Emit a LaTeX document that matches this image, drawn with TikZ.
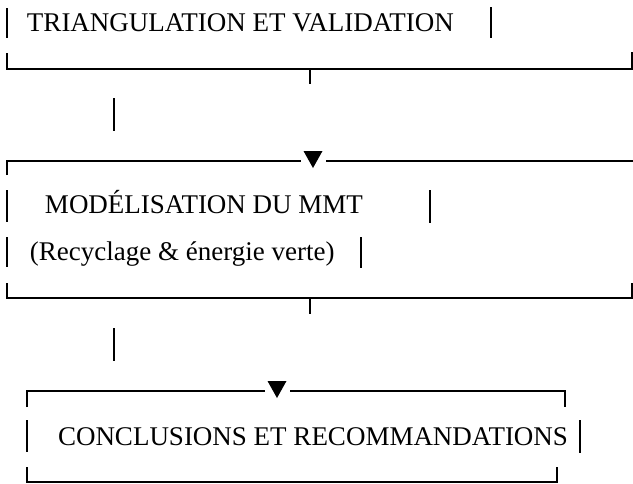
\documentclass[tikz,border=0pt]{standalone}
\usepackage{fontspec}
\setmainfont{Liberation Serif}
\begin{document}
\begin{tikzpicture}[x=1pt,y=-1pt,
  rule/.style={line width=1.9pt,line cap=butt,line join=miter},
  label/.style={anchor=base west,inner sep=0pt,outer sep=0pt,
                font=\fontsize{27}{31}\selectfont},
  arrowhead/.style={fill=black,draw=none}]
\useasboundingbox (0,0) rectangle (633,483);

% ---- first block ----
\node[label] (t1) at (27,31.5) {TRIANGULATION ET VALIDATION};
\draw[rule] (7,8) -- (7,38);
\draw[rule] (491,7) -- (491,38);
\draw[rule] (7,53) -- (7,69) -- (632,69) -- (632,52);
\coordinate (a1) at (310,69);
\draw[rule] (a1) -- ++(0,15);

% ---- link to the second block ----
\coordinate (l1) at (114,98);
\draw[rule] (l1) -- ++(0,33);

% ---- second block ----
\draw[rule] (7,175) -- (7,161) -- (301,161);
\draw[rule] (326,161) -- (633,161);
\coordinate (h1) at (313,168);
\fill[arrowhead] (h1) -- ++(-9.5,-17) -- ++(19,0) -- cycle;
\node[label] (m1) at (45,213.5) {MODÉLISATION DU MMT};
\draw[rule] (7,190) -- (7,222);
\draw[rule] (430,190) -- (430,223);
\node[label] (m2) at (30,260.5) {(Recyclage \& énergie verte)};
\draw[rule] (7,237) -- (7,267);
\draw[rule] (361,237) -- (361,268);
\draw[rule] (7,283) -- (7,298) -- (632,298) -- (632,283);
\coordinate (a2) at (310,298);
\draw[rule] (a2) -- ++(0,16);

% ---- link to the third block ----
\coordinate (l2) at (114,328);
\draw[rule] (l2) -- ++(0,33);

% ---- third block ----
\draw[rule] (27,407) -- (27,391) -- (265,391);
\draw[rule] (290,391) -- (565,391) -- (565,407);
\coordinate (h2) at (277,398);
\fill[arrowhead] (h2) -- ++(-9.5,-17) -- ++(19,0) -- cycle;
\node[label] (c1) at (58,445.5) {CONCLUSIONS ET RECOMMANDATIONS};
\draw[rule] (27,420) -- (27,452);
\draw[rule] (580,420) -- (580,453);
\draw[rule] (27,467) -- (27,482) -- (557,482) -- (557,467);
\end{tikzpicture}
\end{document}
